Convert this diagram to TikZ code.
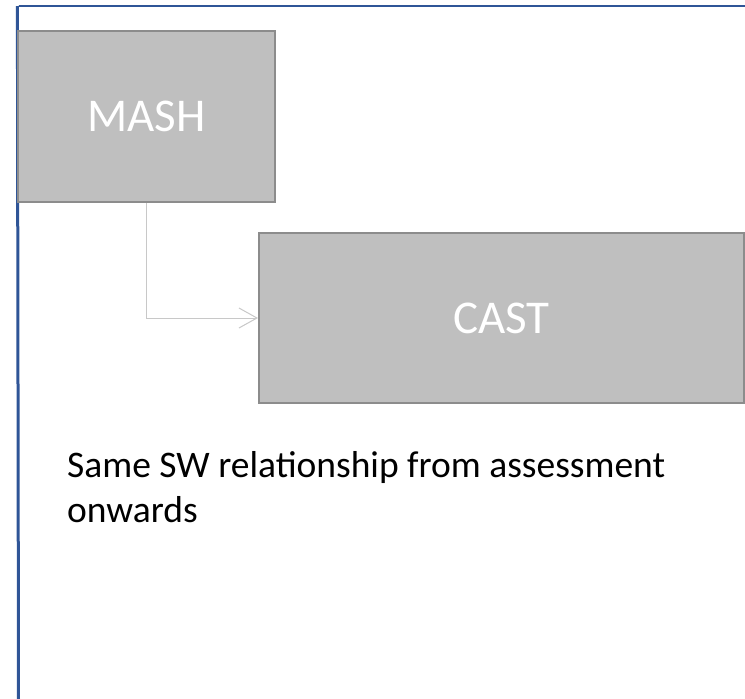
\documentclass[tikz,border=0pt]{standalone}
\usepackage{fontspec}
\setmainfont{Carlito}
\usetikzlibrary{arrows.meta}
\definecolor{frameblue}{RGB}{47,85,151}
\definecolor{boxfill}{RGB}{191,191,191}
\definecolor{boxline}{RGB}{140,140,140}
\definecolor{connline}{RGB}{200,200,200}
\begin{document}
\begin{tikzpicture}[x=1pt,y=-1pt,
  gbox/.style={draw=boxline, line width=2pt, fill=boxfill, text=white, inner sep=0pt,
    font=\fontsize{47}{56}\selectfont},
  conn/.style={draw=connline, line width=1pt, -{Straight Barb[length=18pt,width=20pt,line width=1pt]}},
  note/.style={inner sep=0pt, align=left, font=\fontsize{37.5}{45}\selectfont}
]
\useasboundingbox (0,0) rectangle (745,699);
% frame
\coordinate (ftl) at (18.5,6);
\coordinate (ftr) at (745,6);
\coordinate (fbl) at (18.5,699);
\draw[frameblue, line width=2.2pt] (ftl) -- (ftr);
\draw[frameblue, line width=3pt] (17.4,6) -- (fbl);
% boxes
\node[gbox, minimum width=257pt, minimum height=171pt] (mash) at (146.5,116.5) {MASH};
\node[gbox, minimum width=484.5pt, minimum height=170pt] (cast) at (501.25,318) {CAST};
% connector
\draw[conn] (mash.south) |- (cast.west);
% note
\node[note, anchor=base west] (txt) at (67,522) {Same SW relationship from assessment\\onwards};
\end{tikzpicture}
\end{document}
